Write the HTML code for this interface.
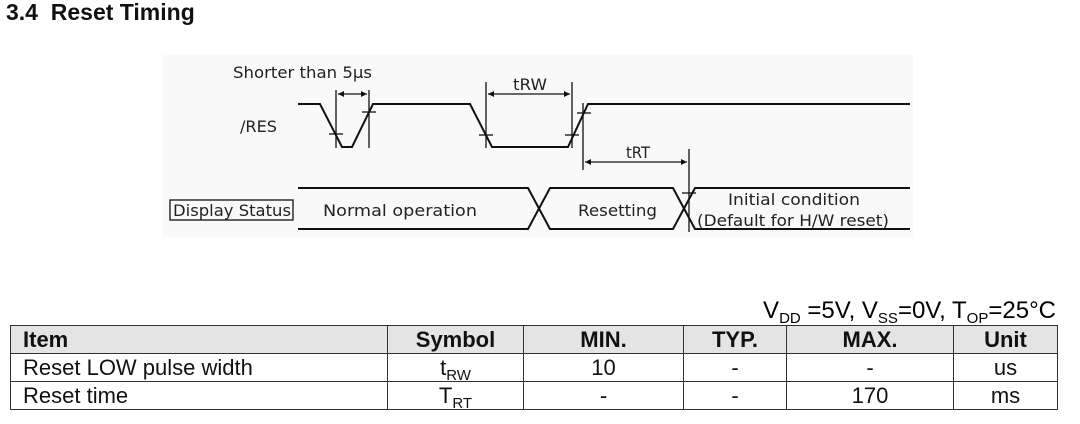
<!DOCTYPE html>
<html><head><meta charset="utf-8"><style>
body{margin:0;width:1080px;height:424px;background:#fff;position:relative;overflow:hidden;font-family:"Liberation Sans",sans-serif;}
.h{position:absolute;left:6px;top:-1px;font-size:23px;font-weight:bold;color:#111;}
table{position:absolute;left:10px;top:325px;border-collapse:collapse;font-size:22px;color:#111;table-layout:fixed;width:1047px;}
td,th{border:1px solid #333;padding:0 12px;height:28px;line-height:26px;box-sizing:border-box;}
th{background:#e4e4e4;font-weight:bold;}
.c{text-align:center}
.cond{position:absolute;right:24px;top:297px;font-size:24px;}
sub{font-size:15px;vertical-align:-5px;line-height:0;}
</style></head><body>
<div class="h">3.4&nbsp; Reset Timing</div>
<svg width="1080" height="424" style="position:absolute;left:0;top:0" font-family="DejaVu Sans, sans-serif">
<rect x="163" y="55" width="750" height="182" fill="#f9f9f9"/>
<g stroke="#111" stroke-width="2" fill="none">
<polyline points="298,104 320,104 342,147 352,147 373,104 470,104 492,147 568,147 588,104 910,104"/>
<polyline points="298,188 528,188 550,229 673,229 695,188 910,188"/>
<polyline points="298,229 528,229 550,188 673,188 695,229 910,229"/>
</g>
<g stroke="#111" stroke-width="1.3" fill="none">
<line x1="336" y1="90" x2="336" y2="148"/><line x1="369" y1="90" x2="369" y2="148"/>
<line x1="486" y1="82" x2="486" y2="148"/><line x1="572" y1="82" x2="572" y2="148"/>
<line x1="583" y1="103" x2="583" y2="170"/><line x1="689" y1="149" x2="689" y2="232"/>
<line x1="338" y1="94" x2="367" y2="94"/><line x1="488" y1="94" x2="570" y2="94"/><line x1="585" y1="162" x2="687" y2="162"/>
<line x1="329" y1="134" x2="343" y2="134"/><line x1="362" y1="112" x2="376" y2="112"/>
<line x1="479" y1="135" x2="493" y2="135"/><line x1="565" y1="135" x2="579" y2="135"/><line x1="577" y1="113" x2="591" y2="113"/>
<line x1="682" y1="193" x2="696" y2="193"/>
</g>
<g fill="#111">
<polygon points="338,94 344,91 344,97"/><polygon points="367,94 361,91 361,97"/>
<polygon points="488,94 494,91 494,97"/><polygon points="570,94 564,91 564,97"/>
<polygon points="585,162 591,159 591,165"/><polygon points="687,162 681,159 681,165"/>
</g>
<rect x="170" y="200" width="123" height="20" fill="none" stroke="#111" stroke-width="1.3"/>
<g font-size="16" fill="#222">
<text x="233" y="78" textLength="139" lengthAdjust="spacingAndGlyphs">Shorter than 5μs</text>
<text x="513" y="90" textLength="34" lengthAdjust="spacingAndGlyphs">tRW</text>
<text x="626" y="158" textLength="24" lengthAdjust="spacingAndGlyphs">tRT</text>
<text x="240" y="132" textLength="37" lengthAdjust="spacingAndGlyphs">/RES</text>
<text x="173" y="216" textLength="118" lengthAdjust="spacingAndGlyphs">Display Status</text>
<text x="323" y="216" textLength="154" lengthAdjust="spacingAndGlyphs">Normal operation</text>
<text x="578" y="216" textLength="79" lengthAdjust="spacingAndGlyphs">Resetting</text>
<text x="728" y="205" textLength="132" lengthAdjust="spacingAndGlyphs">Initial condition</text>
<text x="697" y="226" textLength="192" lengthAdjust="spacingAndGlyphs">(Default for H/W reset)</text>
</g>
</svg>
<div class="cond">V<sub>DD</sub> =5V, V<sub>SS</sub>=0V, T<sub>OP</sub>=25°C</div>
<table>
<colgroup><col style="width:377px"><col style="width:136px"><col style="width:160px"><col style="width:103px"><col style="width:167px"><col style="width:104px"></colgroup>
<tr><th style="text-align:left">Item</th><th>Symbol</th><th>MIN.</th><th>TYP.</th><th>MAX.</th><th>Unit</th></tr>
<tr><td>Reset LOW pulse width</td><td class="c">t<sub>RW</sub></td><td class="c">10</td><td class="c">-</td><td class="c">-</td><td class="c">us</td></tr>
<tr><td>Reset time</td><td class="c">T<sub>RT</sub></td><td class="c">-</td><td class="c">-</td><td class="c">170</td><td class="c">ms</td></tr>
</table>
</body></html>
